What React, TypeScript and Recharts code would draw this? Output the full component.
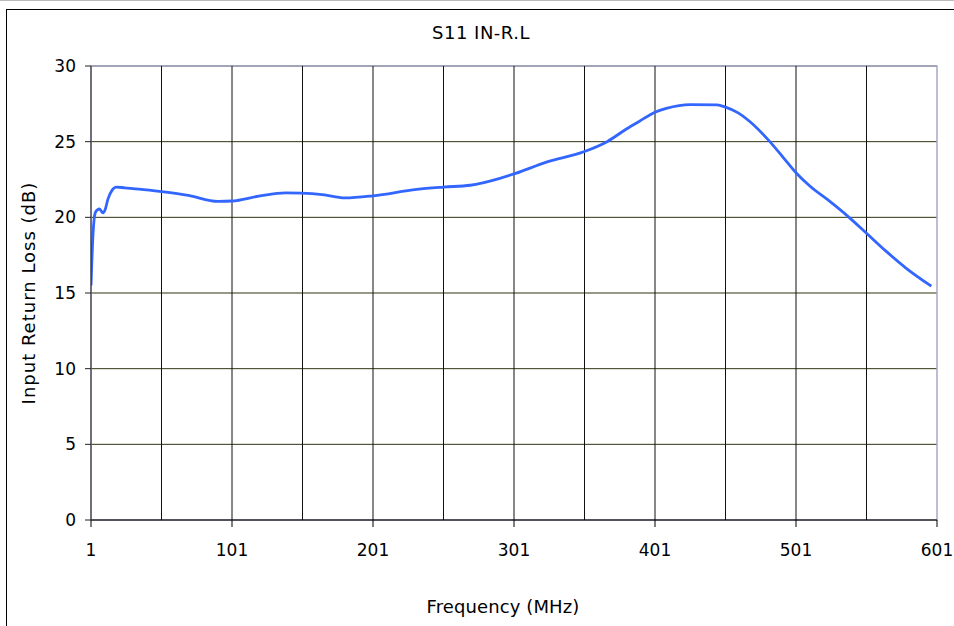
import { CartesianGrid, Label, Line, LineChart, ReferenceArea, ReferenceLine, XAxis, YAxis } from "recharts"

// frequency (MHz)
const freqs = [
  1, 2.5, 4, 5.5, 7, 9.5, 11, 13, 16, 19, 25, 35, 51, 70, 91, 101, 120, 139, 150, 165, 181, 201,
  232, 251, 270, 291, 302, 324, 351, 367, 381, 390, 401, 409, 426, 445, 451, 460, 468, 481, 492,
  501, 511, 525, 538, 551, 565, 579, 597,
]
// input return loss (dB)
const returnLoss = [
  15.5, 19.0, 20.3, 20.5, 20.55, 20.3, 20.5, 21.2, 21.8, 22.0, 21.95, 21.87, 21.7, 21.45, 21.05, 21.08,
  21.4, 21.62, 21.6, 21.5, 21.28, 21.42, 21.85, 22.0, 22.12, 22.58, 22.9, 23.65, 24.35, 25.0, 25.85,
  26.35, 26.95, 27.2, 27.45, 27.43, 27.28, 26.9, 26.35, 25.15, 23.95, 22.95, 22.05, 21.05, 20.05,
  18.95, 17.75, 16.65, 15.45,
]

const xTicks = [1, 101, 201, 301, 401, 501, 601]
const xGrid = [51, 101, 151, 201, 251, 301, 351, 401, 451, 501, 551]
const yTicks = [0, 5, 10, 15, 20, 25, 30]

const data = freqs.map((f, i) => ({ freq: f, rl: returnLoss[i] }))

const font = "'DejaVu Sans', Verdana, sans-serif"
const tickStyle = { fill: "#000", fontSize: 17, fontFamily: font }

export default function App() {
  return (
    <div style={{ position: "absolute", left: 0, top: 0, width: 954, height: 626, background: "#fff", overflow: "hidden" }}>
      {/* outer frame */}
      <div style={{ position: "absolute", left: 0, top: 0, width: 954, height: 0, borderTop: "1px solid #bbb" }} />
      <div style={{ position: "absolute", left: 6, top: 9, width: 960, height: 640, borderTop: "1px solid #000", borderLeft: "1px solid #000" }} />
      <div style={{ position: "absolute", left: 4, top: 24, width: 954, textAlign: "center", fontFamily: font, fontSize: 18, letterSpacing: 0.5, lineHeight: "18px", color: "#000" }}>
        S11 IN-R.L
      </div>
      <div style={{ position: "absolute", left: 0, top: 0 }}>
        <LineChart width={954} height={626} data={data} margin={{ top: 66, right: 17, left: 0, bottom: 0 }}>
          <CartesianGrid vertical={false} stroke="#333311" strokeWidth={1} />
          {xGrid.map((g) => (
            <ReferenceLine key={g} x={g} stroke="#111" strokeWidth={1} ifOverflow="hidden" />
          ))}
          <ReferenceArea x1={1} x2={601} y1={0} y2={30} fill="none" stroke="#a8a8c8" strokeWidth={1.5} />
          <XAxis
            type="number"
            dataKey="freq"
            domain={[1, 601]}
            ticks={xTicks}
            allowDataOverflow
            height={106}
            stroke="#000"
            tickSize={7}
            tickMargin={17}
            tick={tickStyle}
            interval={0}
          >
            <Label
              content={({ viewBox }: any) => {
                const cx = viewBox.x + viewBox.width / 2 - 11
                const cy = viewBox.y + viewBox.height - 13
                return (
                  <text x={cx} y={cy} textAnchor="middle" fill="#000" fontSize={18} letterSpacing={0.1} fontFamily={font}>
                    Frequency (MHz)
                  </text>
                )
              }}
            />
          </XAxis>
          <YAxis
            type="number"
            domain={[0, 30]}
            ticks={yTicks}
            width={91}
            stroke="#222"
            tickSize={6}
            tickMargin={9}
            tick={tickStyle}
            interval={0}
          >
            <Label
              content={({ viewBox }: any) => {
                const cx = viewBox.x + 35
                const cy = viewBox.y + viewBox.height / 2
                return (
                  <text x={cx} y={cy} transform={`rotate(-90 ${cx} ${cy})`} textAnchor="middle" fill="#000" fontSize={18} letterSpacing={1} fontFamily={font}>
                    Input Return Loss (dB)
                  </text>
                )
              }}
            />
          </YAxis>
          <Line type="monotone" dataKey="rl" stroke="#3366ff" strokeWidth={2.8} dot={false} isAnimationActive={false} />
        </LineChart>
      </div>
    </div>
  )
}
